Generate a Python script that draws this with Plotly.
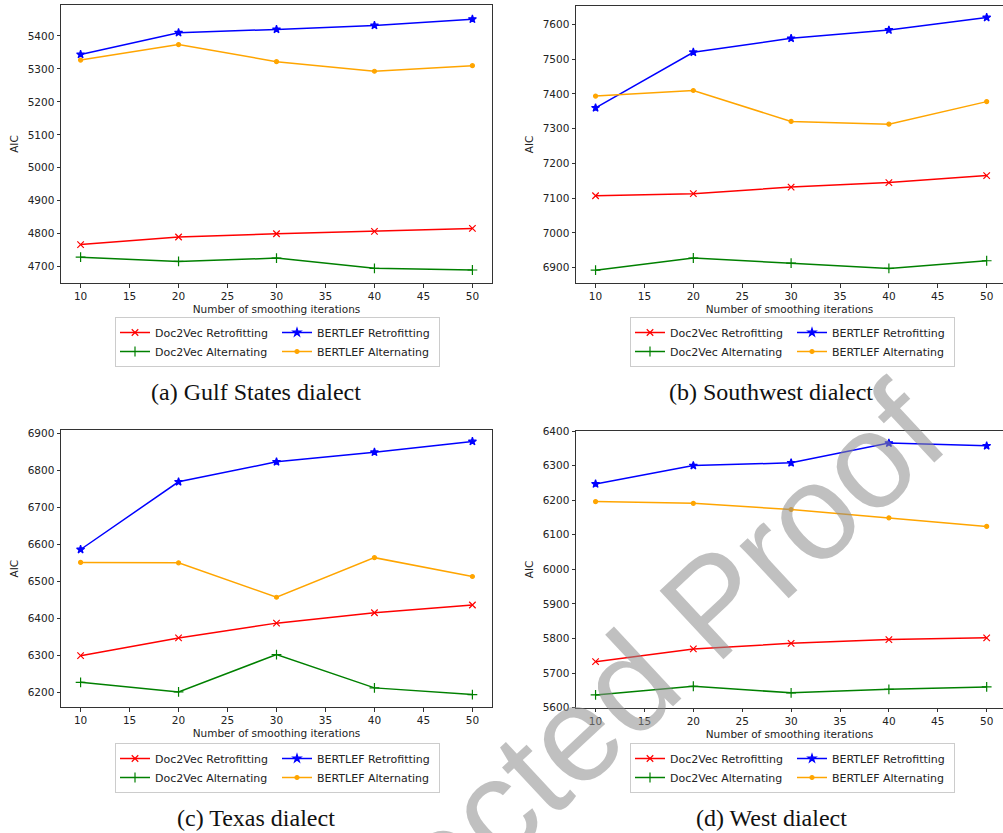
import plotly.graph_objects as go

# ---------------- data ----------------
iterations = [10, 20, 30, 40, 50]

gulf_d2v_retro = [4767, 4790, 4800, 4807, 4816]
gulf_d2v_alt = [4729, 4716, 4726, 4695, 4690]
gulf_bert_retro = [5344, 5410, 5420, 5432, 5451]
gulf_bert_alt = [5327, 5374, 5322, 5293, 5310]

sw_d2v_retro = [7107, 7113, 7132, 7145, 7165]
sw_d2v_alt = [6893, 6928, 6913, 6898, 6920]
sw_bert_retro = [7360, 7520, 7560, 7584, 7620]
sw_bert_alt = [7394, 7410, 7321, 7313, 7378]

tx_d2v_retro = [6299, 6347, 6387, 6415, 6436]
tx_d2v_alt = [6227, 6201, 6302, 6212, 6194]
tx_bert_retro = [6586, 6769, 6823, 6849, 6878]
tx_bert_alt = [6551, 6550, 6457, 6564, 6513]

west_d2v_retro = [5733, 5770, 5786, 5797, 5802]
west_d2v_alt = [5637, 5662, 5643, 5653, 5660]
west_bert_retro = [6247, 6300, 6308, 6365, 6357]
west_bert_alt = [6196, 6191, 6173, 6149, 6124]

series_names = ["Doc2Vec Retrofitting", "Doc2Vec Alternating",
                "BERTLEF Retrofitting", "BERTLEF Alternating"]
captions = ["(a) Gulf States dialect", "(b) Southwest dialect",
            "(c) Texas dialect", "(d) West dialect"]
x_title = "Number of smoothing iterations"
y_title = "AIC"
watermark = "Corrected Proof"

panels = [
    [gulf_d2v_retro, gulf_d2v_alt, gulf_bert_retro, gulf_bert_alt],
    [sw_d2v_retro, sw_d2v_alt, sw_bert_retro, sw_bert_alt],
    [tx_d2v_retro, tx_d2v_alt, tx_bert_retro, tx_bert_alt],
    [west_d2v_retro, west_d2v_alt, west_bert_retro, west_bert_alt],
]

# ---------------- layout geometry (pixels) ----------------
W, H = 1003, 833
FONT = "DejaVu Sans"
FS = 10.5
LFS = 11

def px(x):
    return x / W

def py(y):
    return 1 - y / H

# plot boxes: left, right, top, bottom
boxes = [
    (61, 492, 5, 283),
    (576, 1003, 5.7, 283),
    (61, 492, 430, 707.3),
    (576, 1003, 431, 707.7),
]
x_ranges = [[8, 52], [8, 51.67], [8, 52], [8, 51.67]]
y_ranges = [[4650.5, 5494], [6856, 7654], [6159.5, 6909], [5600, 6400]]
legend_pos = [(115, 317), (630, 317), (115, 743), (630, 743)]
legend_w, legend_h = 322, 46
caption_pos = [(256, 392), (771, 392), (256, 818), (771, 818)]

styles = [
    dict(color="red", symbol="x-thin", size=6.5),
    dict(color="green", symbol="cross-thin", size=7),
    dict(color="blue", symbol="star", size=6),
    dict(color="orange", symbol="circle", size=4),
]
groups = ["c1", "c1", "c2", "c2"]

fig = go.Figure()
layout = dict(
    width=W, height=H,
    margin=dict(l=0, r=0, t=0, b=0, autoexpand=False),
    paper_bgcolor="white", plot_bgcolor="white",
    font=dict(family=FONT, size=FS, color="#222"),
    showlegend=True,
)

annotations = []
shapes = []
for i, data in enumerate(panels):
    k = "" if i == 0 else str(i + 1)
    L, R, T, B = boxes[i]
    right_clipped = R >= W
    axis_common = dict(
        showline=True, linecolor="#333", linewidth=1,
        ticks="outside", ticklen=3.5, tickwidth=0.8, tickcolor="#333",
        showgrid=False, zeroline=False,
        tickfont=dict(family=FONT, size=FS, color="#222"),
    )
    layout["xaxis" + k] = dict(
        axis_common, domain=[px(L), px(R)], range=x_ranges[i],
        anchor="y" + k, tickmode="linear", tick0=10, dtick=5,
        mirror=True,
        title=dict(text=x_title, font=dict(family=FONT, size=FS, color="#222"), standoff=4),
    )
    layout["yaxis" + k] = dict(
        axis_common, domain=[py(B), py(T)], range=y_ranges[i],
        anchor="x" + k, tickmode="linear", tick0=0, dtick=100,
        mirror=(False if right_clipped else True),
        title=dict(text=y_title, font=dict(family=FONT, size=FS, color="#222"), standoff=6),
    )
    lname = "legend" + k
    for j, vals in enumerate(data):
        st = styles[j]
        fig.add_trace(go.Scatter(
            x=iterations, y=vals, mode="lines+markers",
            name=series_names[j],
            line=dict(color=st["color"], width=1.5),
            marker=dict(symbol=st["symbol"], size=st["size"], color=st["color"],
                        line=dict(color=st["color"], width=1.2)),
            xaxis="x" + k, yaxis="y" + k,
            legend=lname, legendgroup=f"{i}{groups[j]}",
        ))
    lx, ly = legend_pos[i]
    layout[lname] = dict(
        x=px(lx), y=py(ly), xanchor="left", yanchor="top",
        orientation="h", traceorder="grouped", entrywidth=117,
        bgcolor="white", bordercolor="#cccccc", borderwidth=1,
        font=dict(family=FONT, size=LFS, color="#222"),
        itemclick=False, itemdoubleclick=False,
    )
    # legend drop shadow (matplotlib-style)
    shapes.append(dict(
        type="rect", xref="paper", yref="paper", layer="above",
        x0=px(lx + 3), x1=px(lx + legend_w + 3),
        y0=py(ly + legend_h + 3), y1=py(ly + 3),
        fillcolor="rgba(120,120,120,0.45)", line=dict(width=0),
    ))
    cx, cy = caption_pos[i]
    annotations.append(dict(
        text=captions[i], x=px(cx), y=py(cy), xref="paper", yref="paper",
        xanchor="center", yanchor="middle", showarrow=False,
        font=dict(family="Liberation Serif", size=24, color="#111"),
    ))

annotations.append(dict(
    text=watermark, x=px(570), y=py(738), xref="paper", yref="paper",
    xanchor="center", yanchor="middle", showarrow=False, textangle=-43,
    font=dict(family="Liberation Sans", size=136,
              color="rgba(140,140,140,0.55)"),
))

layout["annotations"] = annotations
layout["shapes"] = shapes
fig.update_layout(**layout)
fig.write_html("out.html")
